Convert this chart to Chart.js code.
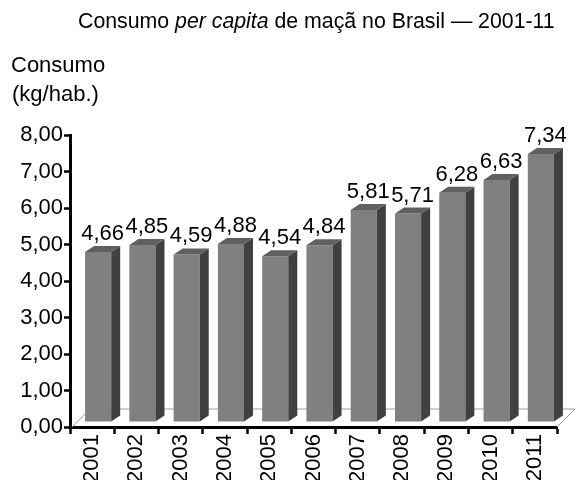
<!DOCTYPE html>
<html>
<head>
<meta charset="utf-8">
<script src="https://cdn.jsdelivr.net/npm/chart.js@4/dist/chart.umd.min.js"></script>
<style>
  body { margin: 0; background: #fff; }
  #wrap { position: relative; width: 576px; height: 480px; }
</style>
</head>
<body>
<div id="wrap"><canvas id="chart" width="576" height="480"></canvas></div>
<script>
const years = ["2001", "2002", "2003", "2004", "2005", "2006", "2007", "2008", "2009", "2010", "2011"];
const consumo = [4.66, 4.85, 4.59, 4.88, 4.54, 4.84, 5.81, 5.71, 6.28, 6.63, 7.34];
const yTicks = [0, 1, 2, 3, 4, 5, 6, 7, 8];

const FONT = "'Liberation Sans', Arial, sans-serif";
const fmt = (v) => v.toFixed(2).replace(".", ",");

// fake 3D: front face shift, side depth
const DX = 6, DY = -5, SIDE = 9, RISE = 6;

const bars3d = {
    id: "bars3d",
    beforeDatasetsDraw(chart) {
        const { ctx, chartArea: a } = chart;
        // floor
        ctx.save();
        ctx.strokeStyle = "#a0a0a0";
        ctx.lineWidth = 1;
        ctx.beginPath();
        ctx.moveTo(a.left + 2, a.bottom);
        ctx.lineTo(a.left + 20, a.bottom - 18);
        ctx.lineTo(a.right + 18, a.bottom - 18);
        ctx.lineTo(a.right, a.bottom);
        ctx.stroke();
        ctx.restore();
        ctx.save();
        ctx.translate(DX, DY);
    },
    afterDatasetsDraw(chart) {
        const ctx = chart.ctx;
        ctx.restore();
        const meta = chart.getDatasetMeta(0);
        ctx.save();
        meta.data.forEach((bar) => {
            const p = bar.getProps(["x", "y", "width", "base"], true);
            const l = p.x - p.width / 2 + DX;
            const r = p.x + p.width / 2 + DX;
            const t = p.y + DY;
            const b = p.base + DY;
            // side
            ctx.fillStyle = "#404040";
            ctx.beginPath();
            ctx.moveTo(r, t);
            ctx.lineTo(r + SIDE, t - RISE);
            ctx.lineTo(r + SIDE, b - RISE);
            ctx.lineTo(r, b);
            ctx.closePath();
            ctx.fill();
            // top
            ctx.fillStyle = "#606060";
            ctx.beginPath();
            ctx.moveTo(l, t);
            ctx.lineTo(l + SIDE, t - RISE);
            ctx.lineTo(r + SIDE, t - RISE);
            ctx.lineTo(r, t);
            ctx.closePath();
            ctx.fill();
        });
        ctx.fillStyle = "#000";
        ctx.font = "22px " + FONT;
        ctx.textAlign = "center";
        ctx.textBaseline = "alphabetic";
        meta.data.forEach((bar, i) => {
            const p = bar.getProps(["x", "y", "width"], true);
            ctx.fillText(fmt(consumo[i]), p.x + DX + SIDE / 2, p.y + DY - 12);
        });
        ctx.restore();
    },
    afterDraw(chart) {
        const ctx = chart.ctx;
        ctx.save();
        ctx.fillStyle = "#000";
        ctx.textAlign = "left";
        ctx.textBaseline = "alphabetic";
        // title with italic part
        const parts = [
            ["Consumo ", "normal"],
            ["per capita", "italic"],
            [" de maçã no Brasil — 2001-11", "normal"],
        ];
        let x = 78;
        parts.forEach(([txt, st]) => {
            ctx.font = st + " 21.3px " + FONT;
            ctx.fillText(txt, x, 28);
            x += ctx.measureText(txt).width;
        });
        ctx.font = "22px " + FONT;
        ctx.fillText("Consumo", 11, 72);
        ctx.fillText("(kg/hab.)", 12, 101);
        ctx.restore();
    },
};

new Chart(document.getElementById("chart"), {
    type: "bar",
    plugins: [bars3d],
    data: {
        labels: years,
        datasets: [
            {
                data: consumo,
                backgroundColor: "#808080",
                borderWidth: 0,
                barPercentage: 0.59,
                categoryPercentage: 1,
            },
        ],
    },
    options: {
        responsive: false,
        animation: false,
        layout: { padding: { left: 0, top: 135, right: 19, bottom: 0 } },
        plugins: {
            legend: { display: false },
            tooltip: { enabled: false },
        },
        scales: {
            y: {
                min: 0,
                max: 8,
                afterBuildTicks: (s) => { s.ticks = yTicks.map((v) => ({ value: v })); },
                afterFit: (s) => { s.width = 70; },
                ticks: {
                    color: "#000",
                    padding: 1,
                    font: { family: FONT, size: 22 },
                    callback: (v) => fmt(v),
                },
                grid: { drawOnChartArea: false, tickLength: 6, tickWidth: 2.5, tickColor: "#000" },
                border: { color: "#000", width: 3 },
            },
            x: {
                afterFit: (s) => { s.height = 53; },
                ticks: {
                    color: "#000",
                    padding: 0,
                    minRotation: 90,
                    maxRotation: 90,
                    font: { family: FONT, size: 22 },
                },
                grid: { drawOnChartArea: false, offset: true, tickLength: 7, tickWidth: 2.5, tickColor: "#000" },
                border: { color: "#000", width: 3 },
            },
        },
    },
});
</script>
</body>
</html>
